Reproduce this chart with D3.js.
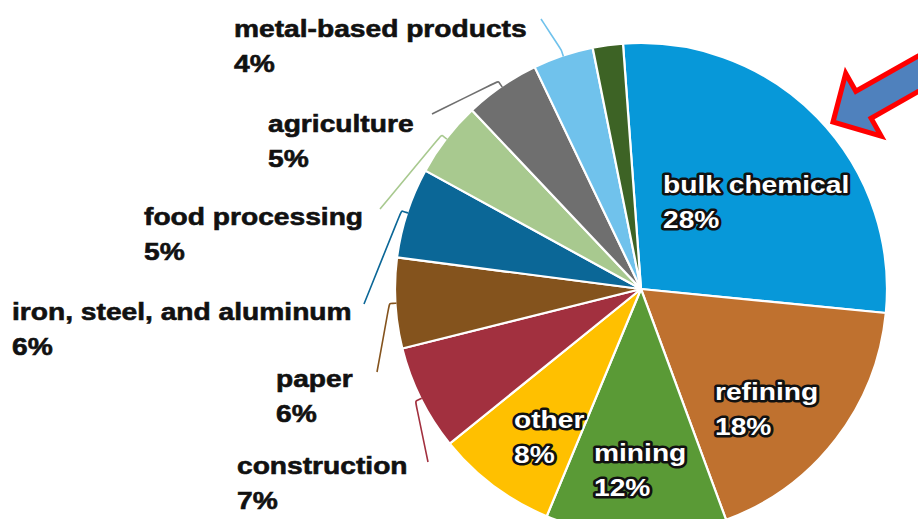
<!DOCTYPE html>
<html>
<head>
<meta charset="utf-8">
<script src="https://cdn.jsdelivr.net/npm/d3@7"></script>
<style>
  body { margin: 0; background: #fff; }
  text { font-family: "Liberation Sans", Arial, sans-serif; font-weight: bold; }
</style>
</head>
<body>
<div id="chart"></div>
<script>
// data, clockwise from the top
const categories = ["bulk chemical", "refining", "mining", "other", "construction", "paper",
  "iron, steel, and aluminum", "food processing", "agriculture", "metal-based products", ""];
const shares = [28, 18, 12, 8, 7, 6, 6, 5, 5, 4, 2];
const pctLabels = ["28%", "18%", "12%", "8%", "7%", "6%", "6%", "5%", "5%", "4%", ""];
const colors = ["#0798d9", "#bf712f", "#5a9a36", "#ffc000", "#a2303f", "#84531d",
  "#0b6797", "#a8c98f", "#6f6f6f", "#70c2ec", "#3d6325"];

const width = 918, height = 531;
const cx = 641, cy = 289, radius = 246;

// label layout: [x, baseline y, inside?]
const labelPos = [
  [663, 193, true], [715, 400, true], [594, 461, true], [514, 428, true],
  [237, 474, false], [276, 387, false], [12, 320, false], [144, 225, false],
  [268, 132, false], [234, 37, false], null
];
// where each leader line ends (next to its label)
const leaderEnd = [null, null, null, null,
  [428, 462], [377, 372], [364, 304], [380, 209], [432, 114], [541, 19], null];

const svg = d3.select("#chart").append("svg")
  .attr("width", width)
  .attr("height", height);

// bottom of the pie is cut off in the picture
svg.append("clipPath").attr("id", "cut")
  .append("rect").attr("x", -cx).attr("y", -cy).attr("width", width).attr("height", 519);

const a0 = -4.2 * Math.PI / 180;
const pie = d3.pie().sort(null).startAngle(a0).endAngle(a0 + 2 * Math.PI);
const arcs = pie(shares);
const arc = d3.arc().innerRadius(0).outerRadius(radius);

const g = svg.append("g")
  .attr("transform", "translate(" + cx + "," + cy + ")")
  .attr("clip-path", "url(#cut)");

g.selectAll("path.slice")
  .data(arcs)
  .join("path")
  .attr("class", "slice")
  .attr("d", arc)
  .attr("fill", (d, i) => colors[i])
  .attr("stroke", "#fff")
  .attr("stroke-width", 2.2)
  .attr("stroke-linejoin", "round");

// leader lines
const onEdge = (a, r) => [cx + r * Math.sin(a), cy - r * Math.cos(a)];
const leader = d3.line().curve(d3.curveBasis);

arcs.forEach((d, i) => {
  if (!leaderEnd[i]) return;
  const mid = (d.startAngle + d.endAngle) / 2;
  const p0 = onEdge(mid, radius - 1);
  const p1 = onEdge(mid, radius + 6);
  svg.append("path")
    .attr("d", leader([p0, p1, p1, leaderEnd[i]]))
    .attr("fill", "none")
    .attr("stroke", colors[i])
    .attr("stroke-width", 1.6);
});

// labels
const labels = svg.append("g");
arcs.forEach((d, i) => {
  const p = labelPos[i];
  if (!p) return;
  const t = labels.append("g")
    .attr("transform", "translate(" + p[0] + "," + p[1] + ") scale(1.15,1)");
  [categories[i], pctLabels[i]].forEach((s, k) => {
    const txt = t.append("text")
      .attr("x", 0)
      .attr("y", k * 35)
      .attr("font-size", 24.5)
      .text(s);
    if (p[2]) {
      txt.attr("fill", "#fff")
        .attr("stroke", "#111")
        .attr("stroke-width", 5)
        .attr("stroke-linejoin", "round")
        .attr("paint-order", "stroke");
    } else {
      txt.attr("fill", "#111")
        .attr("stroke", "#111")
        .attr("stroke-width", 0.6);
    }
  });
});

// red-outlined arrow pointing at the bulk chemical slice
const arrowPts = [[0, 0], [35, -36], [35, -15.5], [130, -15.5], [130, 15.5], [35, 15.5], [35, 36]];
svg.append("path")
  .attr("d", d3.line()(arrowPts) + "Z")
  .attr("transform", "translate(833,122) rotate(-29.5)")
  .attr("fill", "#4f81bd")
  .attr("stroke", "#ff0000")
  .attr("stroke-width", 5)
  .attr("stroke-linejoin", "miter");
</script>
</body>
</html>
